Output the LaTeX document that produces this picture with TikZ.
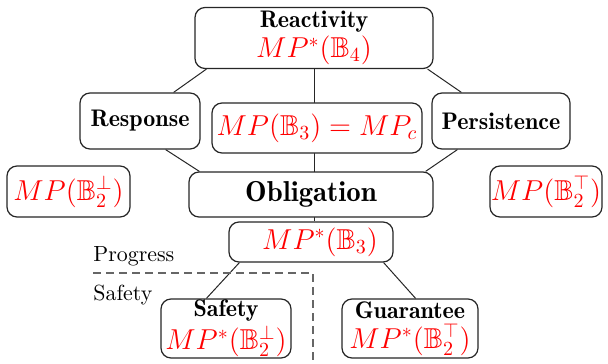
\documentclass[tikz,border=0pt]{standalone}
\usepackage{amssymb}
\usetikzlibrary{backgrounds}
\newcommand\mathfs{\fontsize{14.4}{15}\selectfont}
\newcommand\bsm[1]{{\fontseries{b}\selectfont #1}}
\begin{document}
\begin{tikzpicture}[x=0.5pt,y=-0.5pt,
  box/.style={draw=black!85, line width=0.6pt, rounded corners=5pt, fill=white,
    inner sep=0pt, align=center, font=\fontsize{12}{14}\selectfont},
  rtext/.style={text=red, font=\mathfs},
  conn/.style={line width=0.5pt, draw=black!85},
  lbl/.style={anchor=west, inner sep=0pt, font=\fontsize{10.95}{14}\selectfont},
  sep/.style={dashed, dash pattern=on 4pt off 2.5pt, line width=0.6pt, draw=black!60}]
\useasboundingbox (0,0) rectangle (608,363);

\node[box, minimum width=119pt, minimum height=30.5pt] (react) at (314,38)
  {\bsm{Reactivity}\\[1pt] \textcolor{red}{\mathfs$MP^*(\mathbb{B}_4)$}};
\node[box, minimum width=60pt, minimum height=28pt] (resp) at (140,121) {\bsm{Response}};
\node[box, rtext, minimum width=105pt, minimum height=25pt] (mpc) at (317,128) {$MP(\mathbb{B}_3)=MP_c$};
\node[box, minimum width=69pt, minimum height=28pt] (pers) at (501,121) {\bsm{Persistence}};
\node[box, rtext, minimum width=61.5pt, minimum height=25.5pt] (mpl) at (68.5,191.5) {$MP(\mathbb{B}_2^\bot)$};
\node[box, minimum width=122pt, minimum height=22.5pt, font=\fontsize{14.4}{16}\selectfont] (oblig) at (311,194.5) {\bsm{Obligation}};
\node[box, rtext, minimum width=56pt, minimum height=25.5pt] (mpr) at (546,191.5) {$MP(\mathbb{B}_2^\top)$};
\node[box, rtext, minimum width=82pt, minimum height=20pt] (mpb3) at (311,242) {\hspace{9pt}$MP^*(\mathbb{B}_3)$};
\node[box, minimum width=65pt, minimum height=29.5pt] (safe) at (226,328.5)
  {\bsm{Safety}\\[1pt] \textcolor{red}{\mathfs$MP^*(\mathbb{B}_2^\bot)$}};
\node[box, minimum width=68pt, minimum height=29.5pt] (guar) at (410,328.5)
  {\bsm{Guarantee}\\[1pt] \textcolor{red}{\mathfs$MP^*(\mathbb{B}_2^\top)$}};

\node[lbl] (prog) at (93,256) {Progress};
\node[lbl] (safl) at (93,295) {Safety};

\coordinate (d1) at (93,273);
\coordinate (d2) at (313,273);
\coordinate (d3) at (313,363);
\draw[sep] (d1) -- (d2) -- (d3);

\begin{scope}[on background layer]
  \draw[conn] (react.south) -- (react.south |- mpb3.north);
  \draw[conn] ([xshift=6pt]react.south west) -- ([xshift=-13.5pt]resp.north east);
  \draw[conn] ([xshift=-17.5pt]resp.south east) -- ([xshift=5.5pt]oblig.north west);
  \draw[conn] ([xshift=-3pt]react.south east) -- ([xshift=15pt]pers.north west);
  \draw[conn] ([xshift=13pt]pers.south west) -- ([xshift=-4pt]oblig.north east);
  \draw[conn] ([xshift=5.5pt]mpb3.south west) -- ([xshift=23pt]safe.north west);
  \draw[conn] ([xshift=-5pt]mpb3.south east) -- ([xshift=-31.5pt]guar.north east);
\end{scope}
\end{tikzpicture}
\end{document}
